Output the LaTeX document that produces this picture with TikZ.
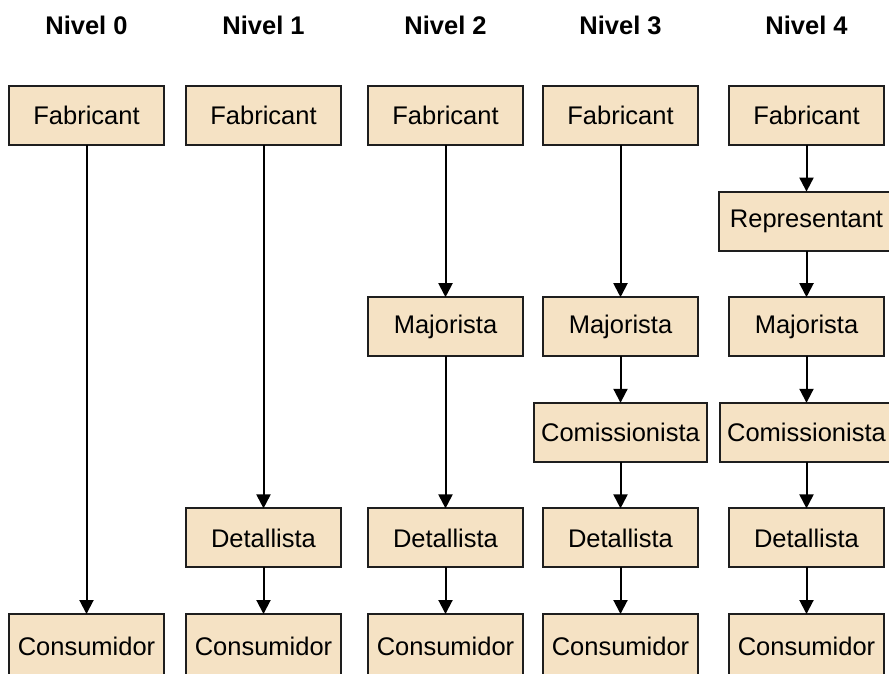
\documentclass[tikz,border=0pt]{standalone}
\usepackage{fontspec}
\setmainfont{Liberation Sans}
\usetikzlibrary{arrows.meta,positioning}
\definecolor{boxfill}{RGB}{245,226,196}
\definecolor{edge}{RGB}{30,30,30}
\tikzset{
  flow/.style={>={Triangle[width=14pt,length=14pt]},line width=2pt},
  blk/.style={draw=edge,line width=2pt,fill=boxfill,align=center,
    font=\fontsize{25.5}{30}\selectfont,inner xsep=7pt,outer sep=0pt,
    minimum width=155pt,minimum height=59pt},
  endblk/.style={blk,minimum height=64pt},
  level/.style={font=\fontsize{25.5}{30}\selectfont\bfseries,inner sep=0pt},
}
\begin{document}
\begin{tikzpicture}[flow,x=1pt,y=1pt,node distance=46.6pt]
\useasboundingbox (0,0) rectangle (889,-673);
% top row
\node[blk] (fab0) at (86.5,-115.5) {Fabricant};
\node[blk,right=22pt of fab0] (fab1) {Fabricant};
\node[blk,right=27pt of fab1] (fab2) {Fabricant};
\node[blk,right=20pt of fab2] (fab3) {Fabricant};
\node[blk,right=31pt of fab3] (fab4) {Fabricant};
% levels
\node[level,above=50.5pt of fab0] (lv0) {Nivel 0};
\node[level,above=50.5pt of fab1] (lv1) {Nivel 1};
\node[level,above=50.5pt of fab2] (lv2) {Nivel 2};
\node[level,above=50.5pt of fab3] (lv3) {Nivel 3};
\node[level,above=50.5pt of fab4] (lv4) {Nivel 4};
% level 0
\node[endblk,below=469pt of fab0] (con0) {Consumidor};
% level 1
\node[blk,below=363.4pt of fab1] (det1) {Detallista};
\node[endblk,below=of det1] (con1) {Consumidor};
% level 2
\node[blk,below=152.2pt of fab2] (maj2) {Majorista};
\node[blk,below=152.2pt of maj2] (det2) {Detallista};
\node[endblk,below=of det2] (con2) {Consumidor};
% level 3
\node[blk,below=152.2pt of fab3] (maj3) {Majorista};
\node[blk,below=of maj3] (com3) {Comissionista};
\node[blk,below=of com3] (det3) {Detallista};
\node[endblk,below=of det3] (con3) {Consumidor};
% level 4
\node[blk,below=of fab4,inner xsep=11pt] (rep4) {Representant};
\node[blk,below=of rep4] (maj4) {Majorista};
\node[blk,below=of maj4] (com4) {Comissionista};
\node[blk,below=of com4] (det4) {Detallista};
\node[endblk,below=of det4] (con4) {Consumidor};
% arrows
\draw[->] (fab0)--(con0);
\draw[->] (fab1)--(det1); \draw[->] (det1)--(con1);
\draw[->] (fab2)--(maj2); \draw[->] (maj2)--(det2); \draw[->] (det2)--(con2);
\draw[->] (fab3)--(maj3); \draw[->] (maj3)--(com3); \draw[->] (com3)--(det3);
\draw[->] (det3)--(con3);
\draw[->] (fab4)--(rep4); \draw[->] (rep4)--(maj4); \draw[->] (maj4)--(com4);
\draw[->] (com4)--(det4); \draw[->] (det4)--(con4);
\end{tikzpicture}
\end{document}
